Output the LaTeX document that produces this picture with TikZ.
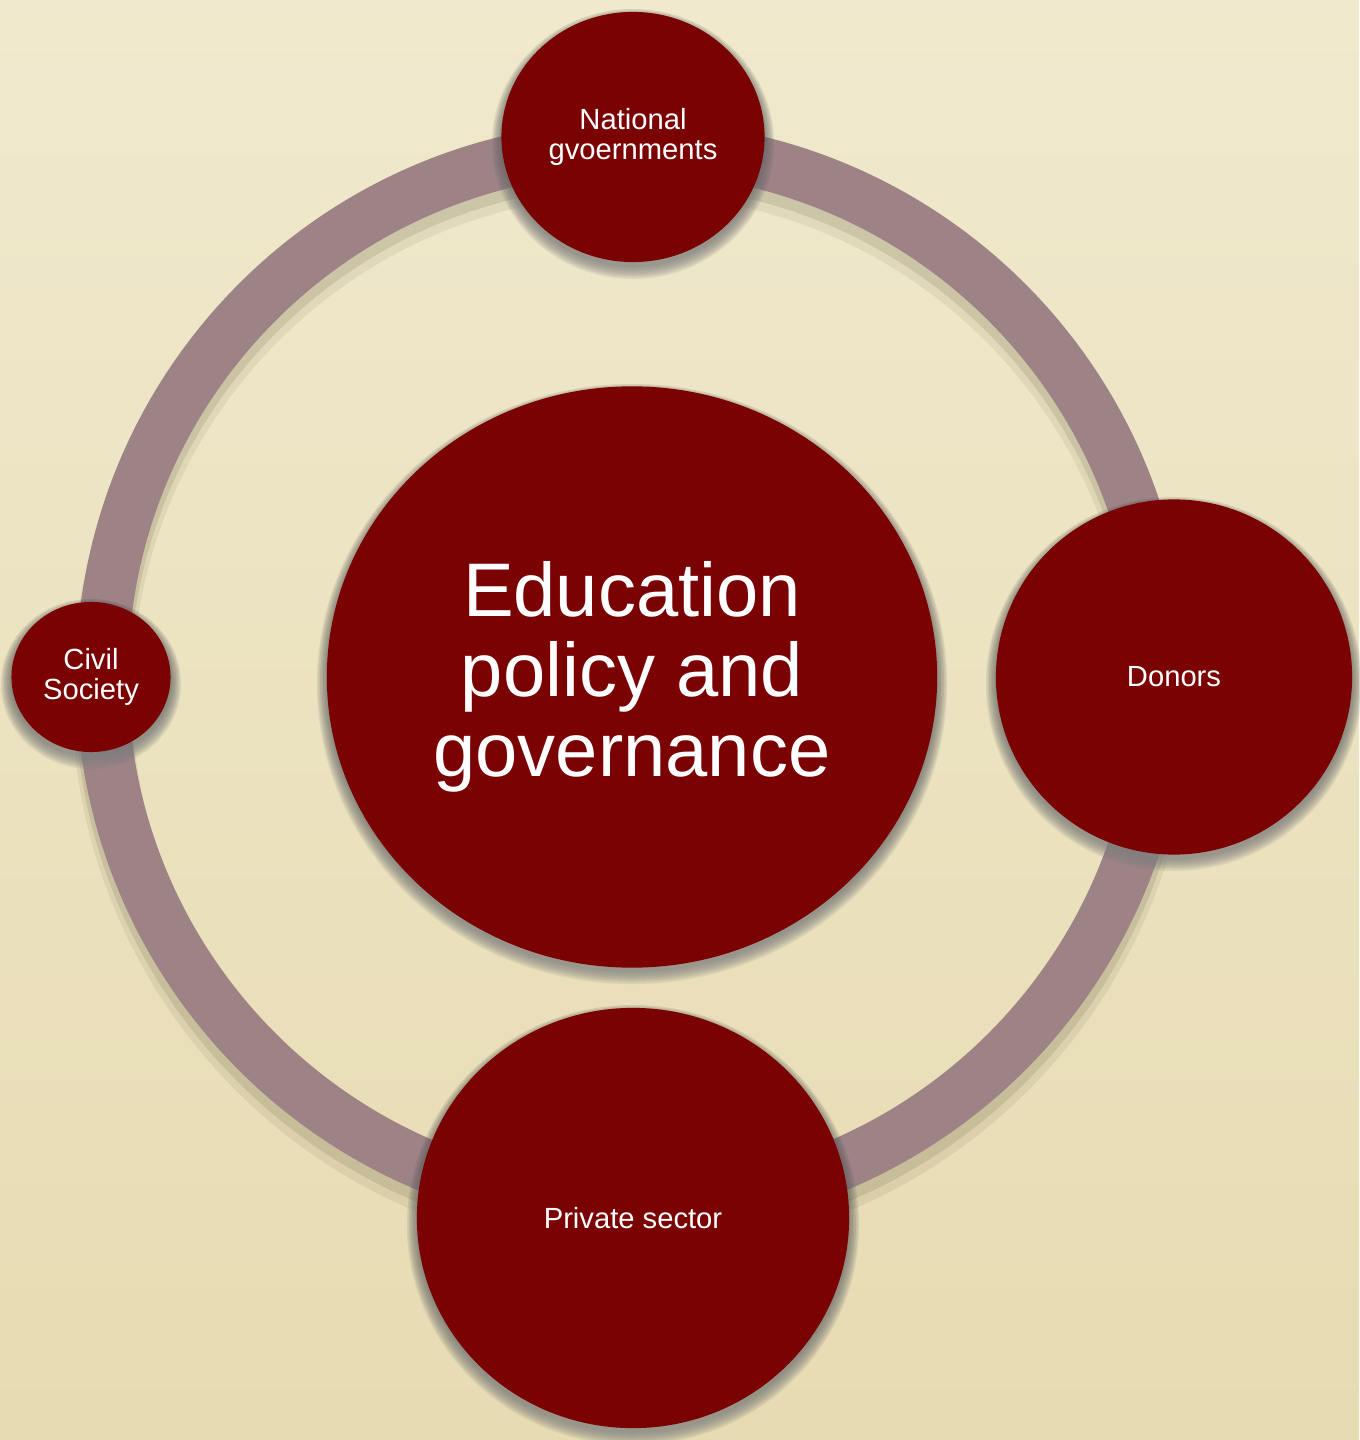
\documentclass[tikz,border=0pt]{standalone}
\usepackage{fontspec}
\setmainfont{Liberation Sans}
\usetikzlibrary{shapes.geometric}
\definecolor{paper}{RGB}{240,233,205}
\definecolor{paperlow}{RGB}{231,219,178}
\definecolor{wine}{RGB}{123,2,3}
\definecolor{mauve}{RGB}{157,130,134}
\definecolor{shade}{RGB}{60,54,28}
\tikzstyle{disc} = [ellipse,fill=wine,text=white,align=center,inner sep=0pt,font=\fontsize{8.3}{8.6}\selectfont]
\tikzstyle{hub} = [disc,font=\fontsize{21.6}{22.8}\selectfont]
\tikzstyle{ring} = [draw=mauve,line width=0.52cm]
\pgfdeclarelayer{background}
\pgfdeclarelayer{shadow}
\pgfsetlayers{background,shadow,main}

\begin{document}
\begin{tikzpicture}[x=0.01cm,y=-0.01cm]
\useasboundingbox (0,0) rectangle (1359,1440);

\node[hub,minimum width=6.1cm,minimum height=5.81cm] (edu) at (632,677) {Education\\policy and\\governance};
\node[disc,minimum width=2.63cm,minimum height=2.5cm]  (gov)  at (633,137)  {National\\gvoernments};
\node[disc,minimum width=3.56cm,minimum height=3.55cm] (don)  at (1174,677) {Donors};
\node[disc,minimum width=1.59cm,minimum height=1.5cm]  (civ)  at (91,677)   {Civil\\Society};
\node[disc,minimum width=4.32cm,minimum height=4.2cm]  (priv) at (633,1218) {Private sector};

\begin{pgfonlayer}{background}
\shade[top color=paper,middle color=paper,bottom color=paperlow] (0,0) rectangle (1359,1440);
\draw[ring,draw=shade,opacity=.08,line width=0.6cm] ([yshift=-5pt]edu.center) circle (530);
\draw[ring,draw=shade,opacity=.12,line width=0.55cm] ([yshift=-3pt]edu.center) circle (530);
\draw[ring] (edu.center) circle (530);
\end{pgfonlayer}

% soft shadows under the discs
\begin{pgfonlayer}{shadow}
\foreach \n/\rx/\ry in {edu/305/290,gov/131/125,don/178/177,civ/80/75,priv/216/210}
  \foreach \k in {0,...,8}
    \fill[shade,opacity=.07] ([yshift=-2pt]\n.center) ellipse ({\rx+10-1.5*\k} and {\ry+10-1.5*\k});
\end{pgfonlayer}
\end{tikzpicture}
\end{document}
